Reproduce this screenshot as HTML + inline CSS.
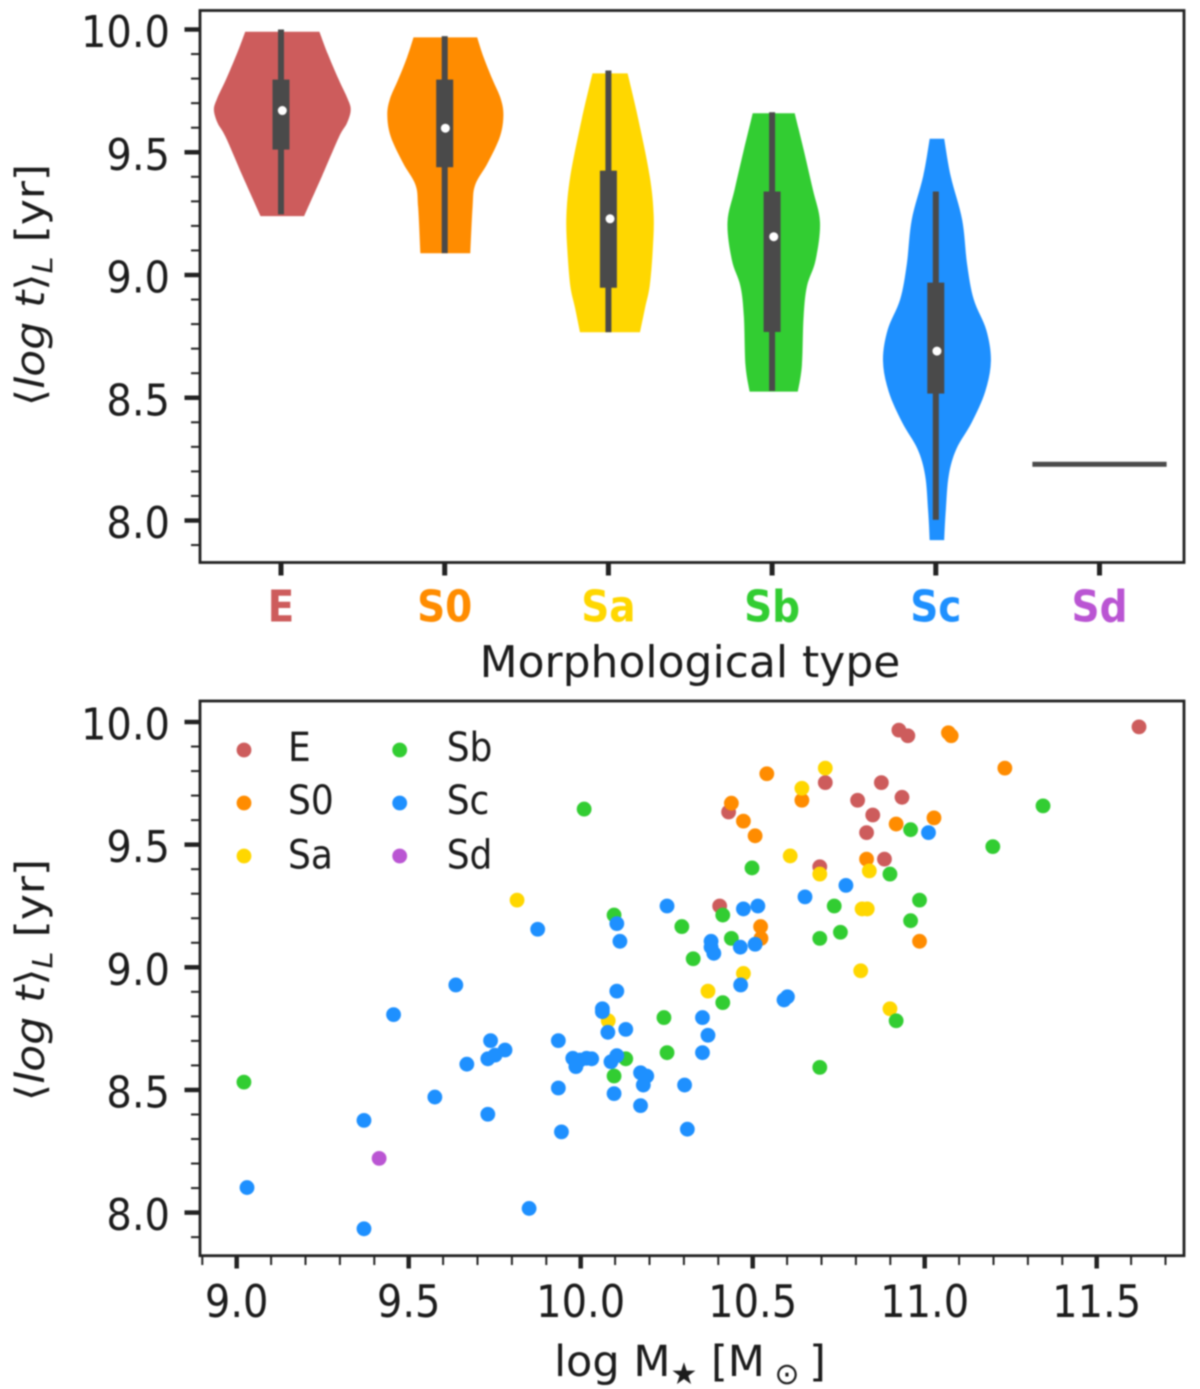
<!DOCTYPE html>
<html lang="en">
<head>
<meta charset="utf-8">
<title>Light-weighted stellar age by morphological type and stellar mass</title>
<style>
html,body{margin:0;padding:0;background:#fff}
svg{display:block;filter:blur(.7px)}
text{font-family:"DejaVu Sans","Liberation Sans",sans-serif;fill:#1c1c1c}
</style>
</head>
<body>
<svg id="fig" xmlns="http://www.w3.org/2000/svg" width="1200" height="1389" viewBox="0 0 1200 1389">
  <rect x="0" y="0" width="1200" height="1389" fill="#fff"/>
  <g id="top-panel"></g>
  <g id="bottom-panel"></g>

  <text transform="translate(44,285) rotate(-90) scale(1.1,1)" text-anchor="middle" font-size="40">⟨<tspan font-style="italic">log t</tspan>⟩<tspan font-style="italic" font-size="28" dy="8">L</tspan><tspan dy="-8"> [yr]</tspan></text>
  <text x="690" y="677" text-anchor="middle" font-size="44">Morphological type</text>

  <text transform="translate(44,980) rotate(-90) scale(1.1,1)" text-anchor="middle" font-size="40">⟨<tspan font-style="italic">log t</tspan>⟩<tspan font-style="italic" font-size="28" dy="8">L</tspan><tspan dy="-8"> [yr]</tspan></text>
  <text x="690" y="1376" text-anchor="middle" font-size="43">log M<tspan font-size="30" dy="8">★</tspan><tspan dy="-8"> [M</tspan><tspan font-size="30" dy="8"> ⊙ </tspan><tspan dy="-8">]</tspan></text>
</svg>

<script>
// ---------- shared categories ----------
const categories = ['E', 'S0', 'Sa', 'Sb', 'Sc', 'Sd'];
const colors = ['#CD5C5C', '#FF8C00', '#FFD700', '#32CD32', '#1E90FF', '#BA55D3'];
const yTickLabels = ['8.0', '8.5', '9.0', '9.5', '10.0'];
const yMajorTicks = [8.0, 8.5, 9.0, 9.5, 10.0];
const yMinorTicks = [7.9, 8.1, 8.2, 8.3, 8.4, 8.6, 8.7, 8.8, 8.9, 9.1, 9.2, 9.3, 9.4, 9.6, 9.7, 9.8, 9.9];
const xMajorTicks = [9.0, 9.5, 10.0, 10.5, 11.0, 11.5];
const xTickLabels = ['9.0', '9.5', '10.0', '10.5', '11.0', '11.5'];
const xMinorTicks = [8.9, 9.1, 9.2, 9.3, 9.4, 9.6, 9.7, 9.8, 9.9, 10.1, 10.2, 10.3, 10.4, 10.6, 10.7, 10.8, 10.9, 11.1, 11.2, 11.3, 11.4, 11.6, 11.7];

// ---------- violin data: age grid and density half-widths (category units) ----------
const ageE = [9.991, 9.901, 9.797, 9.717, 9.672, 9.618, 9.564, 9.403, 9.240];
const widthE = [.226, .277, .343, .399, .417, .394, .347, .242, .133];
const ageS0 = [9.968, 9.887, 9.797, 9.717, 9.650, 9.564, 9.457, 9.367, 9.278, 9.089];
const widthS0 = [.194, .233, .287, .338, .354, .333, .259, .182, .166, .152];
const ageSa = [9.821, 9.636, 9.403, 9.242, 9.098, 8.955, 8.865, 8.767];
const widthSa = [.107, .172, .242, .266, .260, .242, .213, .183];
const ageSb = [9.659, 9.511, 9.349, 9.215, 9.062, 8.955, 8.829, 8.632, 8.525];
const widthSb = [.128, .182, .238, .282, .256, .203, .182, .172, .147];
const ageSc = [9.555, 9.403, 9.224, 9.044, 8.901, 8.776, 8.650, 8.525, 8.399, 8.292, 8.184, 8.041, 7.920];
const widthSc = [.044, .084, .154, .184, .224, .301, .329, .294, .212, .119, .072, .054, .044];
const violinAges = [ageE, ageS0, ageSa, ageSb, ageSc];
const violinWidths = [widthE, widthS0, widthSa, widthSb, widthSc];
const violinShift = [.008, .004, .01, .01, .007];

// box statistics per category
const whiskerHigh = [10.0, 9.973, 9.833, 9.663, 9.340];
const whiskerLow = [9.247, 9.089, 8.767, 8.528, 8.003];
const q3 = [9.796, 9.796, 9.425, 9.340, 8.969];
const q1 = [9.511, 9.439, 8.948, 8.768, 8.517];
const medians = [9.670, 9.598, 9.229, 9.156, 8.690];
const sdValue = 8.229;
const sdHalfWidth = .41;

// ---------- scatter data: log stellar mass, age ----------
const massE = [10.925, 10.951, 10.711, 10.874, 10.934, 10.805, 10.849, 10.831, 10.430, 10.883, 10.695, 10.404, 11.623];
const ageScE = [9.967, 9.944, 9.753, 9.753, 9.693, 9.681, 9.621, 9.549, 9.633, 9.441, 9.410, 9.250, 9.980];
const massS0 = [11.069, 11.077, 10.541, 10.643, 10.438, 10.473, 10.507, 10.917, 11.027, 10.831, 10.523, 10.524, 10.985, 11.233];
const ageScS0 = [9.956, 9.944, 9.789, 9.681, 9.669, 9.596, 9.536, 9.584, 9.609, 9.441, 9.166, 9.118, 9.106, 9.812];
const massSa = [10.711, 10.643, 10.609, 10.695, 10.839, 10.818, 10.833, 10.814, 10.473, 10.370, 10.899, 10.080, 9.815];
const ageScSa = [9.812, 9.730, 9.454, 9.380, 9.393, 9.238, 9.238, 8.986, 8.975, 8.903, 8.831, 8.782, 9.274];
const massSb = [10.010, 9.021, 10.959, 11.198, 11.344, 10.498, 10.899, 10.985, 10.737, 10.413, 10.097, 10.959, 10.755, 10.294, 10.695, 10.438, 10.327, 10.413, 10.242, 10.917, 10.251, 10.131, 10.097, 10.695];
const ageScSb = [9.645, 8.532, 9.561, 9.492, 9.658, 9.405, 9.380, 9.274, 9.250, 9.213, 9.213, 9.190, 9.143, 9.166, 9.118, 9.118, 9.035, 8.856, 8.795, 8.782, 8.652, 8.627, 8.557, 8.592];
const massSc = [9.875, 9.637, 9.456, 9.738, 9.780, 9.751, 9.730, 9.669, 9.576, 9.730, 9.370, 9.030, 9.370, 9.850, 9.935, 9.935, 9.944, 9.977, 9.986, 9.998, 10.017, 10.032, 10.105, 10.063, 10.063, 10.079, 10.131, 10.088, 10.105, 10.097, 10.174, 10.192, 10.182, 10.174, 10.302, 10.310, 10.354, 10.370, 10.354, 10.465, 10.601, 10.591, 10.251, 10.473, 10.515, 10.105, 10.114, 10.379, 10.387, 10.379, 10.464, 10.507, 10.652, 10.771, 11.011];
const ageScSc = [9.155, 8.928, 8.807, 8.701, 8.663, 8.642, 8.627, 8.605, 8.471, 8.401, 8.376, 8.102, 7.934, 8.017, 8.701, 8.508, 8.329, 8.629, 8.595, 8.622, 8.629, 8.627, 8.903, 8.831, 8.819, 8.735, 8.747, 8.615, 8.640, 8.485, 8.570, 8.557, 8.520, 8.436, 8.520, 8.340, 8.795, 8.723, 8.652, 8.928, 8.880, 8.867, 9.250, 9.238, 9.250, 9.178, 9.106, 9.106, 9.057, 9.082, 9.082, 9.094, 9.287, 9.334, 9.549];
const massSd = [9.414];
const ageScSd = [8.221];
const scatterMass = [massE, massS0, massSa, massSb, massSc, massSd];
const scatterAge = [ageScE, ageScS0, ageScSa, ageScSb, ageScSc, ageScSd];

// ---------- axis functions ----------
const xCat = c => 281 + c * 163.7;
const yTop = v => 29.5 + (10 - v) * 245.5;
const xMass = v => 236.7 + (v - 9) * 344;
const yBot = v => 722 + (10 - v) * 245.3;

const NS = 'http://www.w3.org/2000/svg';
function make(parent, tag, attrs, text) {
  const el = document.createElementNS(NS, tag);
  for (const k in attrs) el.setAttribute(k, attrs[k]);
  if (text !== undefined) el.textContent = text;
  parent.appendChild(el);
  return el;
}
const INK = '#222';
const BOX = '#4a4a4a';
const topPanel = document.getElementById('top-panel');
const bottomPanel = document.getElementById('bottom-panel');

// smooth curve through a list of [x,y] vertices, continuing an open path
function smoothThrough(pts) {
  let d = '';
  for (let k = 0; k < pts.length - 1; k++) {
    const p0 = pts[Math.max(k - 1, 0)], p1 = pts[k], p2 = pts[k + 1], p3 = pts[Math.min(k + 2, pts.length - 1)];
    const c1x = p1[0] + (p2[0] - p0[0]) / 6, c1y = p1[1] + (p2[1] - p0[1]) / 6;
    const c2x = p2[0] - (p3[0] - p1[0]) / 6, c2y = p2[1] - (p3[1] - p1[1]) / 6;
    d += ' C' + c1x.toFixed(1) + ' ' + c1y.toFixed(1) + ' ' + c2x.toFixed(1) + ' ' + c2y.toFixed(1) + ' ' + p2[0].toFixed(1) + ' ' + p2[1].toFixed(1);
  }
  return d;
}

// ---------- violin panel ----------
function drawViolin(i) {
  const ages = violinAges[i], widths = violinWidths[i];
  const cx = xCat(i + violinShift[i]);
  const right = ages.map((a, k) => [cx + widths[k] * 164, yTop(a)]);
  const left = ages.map((a, k) => [cx - widths[k] * 164, yTop(a)]).reverse();
  const d = 'M' + right[0][0].toFixed(1) + ' ' + right[0][1].toFixed(1) + smoothThrough(right) +
    ' L' + left[0][0].toFixed(1) + ' ' + left[0][1].toFixed(1) + smoothThrough(left) + ' Z';
  const poly = make(topPanel, 'path', { d: d, fill: colors[i] });
  
  
  const whisk = make(topPanel, 'rect', { x: xCat(i) - 3, y: yTop(whiskerHigh[i]), width: 6, height: yTop(whiskerLow[i]) - yTop(whiskerHigh[i]), fill: BOX });
  
  
  const box = make(topPanel, 'rect', { x: xCat(i) - 8.5, y: yTop(q3[i]), width: 17, height: yTop(q1[i]) - yTop(q3[i]), fill: BOX });
  
  
  const med = make(topPanel, 'circle', { cx: cx, cy: yTop(medians[i]), r: 4.5, fill: '#fff' });
  
  
}
categories.slice(0, 5).forEach((c, i) => drawViolin(i));

const sdLine = make(topPanel, 'rect', { x: xCat(5 - sdHalfWidth), y: yTop(sdValue) - 2.5, width: xCat(5 + sdHalfWidth) - xCat(5 - sdHalfWidth), height: 5, fill: BOX });



function drawFrame(parent, prefix, x0, y0, x1, y1) {
  const f = make(parent, 'rect', { x: x0, y: y0, width: x1 - x0, height: y1 - y0, fill: 'none', stroke: INK, 'stroke-width': 2.8 });
  
  
}
function placeText(el, x, y, stretch) {
  el.setAttribute('transform', 'translate(' + x + ',' + y + ') scale(1,' + stretch + ')');
}
function drawYAxis(parent, prefix, scale, x0) {
  yMinorTicks.forEach(v => {
    const t = make(parent, 'line', { x1: x0 - 9, x2: x0, y1: scale(v), y2: scale(v), stroke: INK, 'stroke-width': 2 });
    
    
  });
  yMajorTicks.forEach((v, k) => {
    const t = make(parent, 'line', { x1: x0 - 15.5, x2: x0, y1: scale(v), y2: scale(v), stroke: INK, 'stroke-width': 4.5 });
    
    
    const l = make(parent, 'text', { 'text-anchor': 'end', 'font-size': 40 }, yTickLabels[k]);
    placeText(l, 170, scale(v) + 17.5, 1.1);
    
    
  });
}

drawFrame(topPanel, 'violin', 200, 10.5, 1184, 562.5);
drawYAxis(topPanel, 'violin', yTop, 200);
categories.forEach((c, i) => {
  const t = make(topPanel, 'line', { x1: xCat(i), x2: xCat(i), y1: 562.5, y2: 575.5, stroke: INK, 'stroke-width': 5 });
  
  
  const l = make(topPanel, 'text', { 'text-anchor': 'middle', 'font-size': 39, 'font-weight': 'bold' }, c);
  placeText(l, xCat(i), 621.5, 1.12);
  l.style.fill = colors[i];
  
  
});

// ---------- scatter panel ----------
scatterMass.forEach((xs, s) => {
  xs.forEach((m, k) => {
    const p = make(bottomPanel, 'circle', { cx: xMass(m), cy: yBot(scatterAge[s][k]), r: 7.4, fill: colors[s] });
    
    
  });
});

drawFrame(bottomPanel, 'scatter', 200, 701, 1184, 1255.7);
drawYAxis(bottomPanel, 'scatter', yBot, 200);
xMinorTicks.forEach(v => {
  const t = make(bottomPanel, 'line', { x1: xMass(v), x2: xMass(v), y1: 1255.7, y2: 1265, stroke: INK, 'stroke-width': 2 });
  
  
});
xMajorTicks.forEach((v, k) => {
  const t = make(bottomPanel, 'line', { x1: xMass(v), x2: xMass(v), y1: 1255.7, y2: 1268.5, stroke: INK, 'stroke-width': 4.5 });
  
  
  const l = make(bottomPanel, 'text', { 'text-anchor': 'middle', 'font-size': 40 }, xTickLabels[k]);
  placeText(l, xMass(v), 1317, 1.12);
  
  
});

// ---------- legend ----------
const legend = make(bottomPanel, 'g', {});


categories.forEach((c, i) => {
  const col = Math.floor(i / 3), row = i % 3;
  const mx = 244 + col * 155.7, my = 750 + row * 53;
  const m = make(legend, 'circle', { cx: mx, cy: my, r: 7.4, fill: colors[i] });
  
  
  const l = make(legend, 'text', { 'font-size': 36 }, c);
  placeText(l, mx + 44 + col * 3, my + 11 + (row === 2 ? 1.5 : 0), 1.12);
  
  
});
</script>
</body>
</html>
